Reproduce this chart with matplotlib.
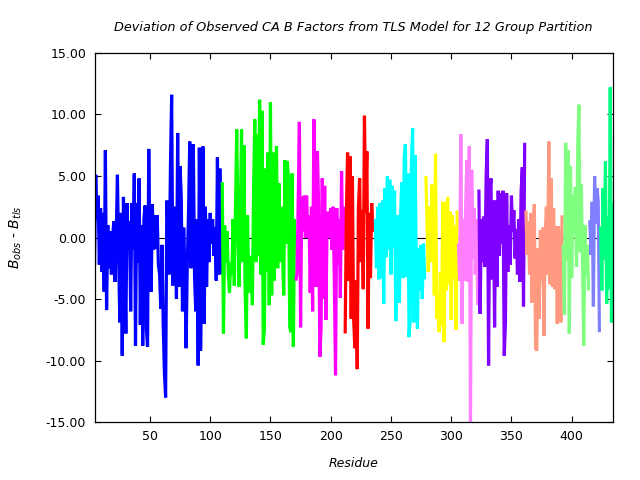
import matplotlib

matplotlib.use("Agg")
import matplotlib.pyplot as plt

# residue ranges of the 12 TLS groups (first, last)
group_ranges = [
    (4, 109), (110, 170), (171, 211), (212, 236), (237, 278), (279, 305),
    (306, 322), (323, 361), (362, 392), (393, 414), (415, 423), (424, 434),
]
group_colors = [
    "#0000ff", "#00ff00", "#ff00ff", "#ff0000", "#00ffff", "#ffff00",
    "#ff80ff", "#8000ff", "#ff9980", "#80ff80", "#8080ff", "#00ff80",
]

# B_obs - B_tls per residue, one list per group
dev_g1 = [
    -2.2, 5.1, 1.5, 3.4, -2.2, 2.4, -2.8, 2.0, -4.4, 7.1,
    -5.9, 1.0, -2.5, 0.5, -3.0, 0.0, 1.3, -3.6, 0.0, 5.1,
    -1.5, -6.9, 2.0, -9.6, 3.3, -2.0, -7.8, 2.8, -1.0, 1.3,
    -6.0, 2.8, -1.0, 5.2, -8.8, 2.8, -2.0, 4.8, -7.1, 1.0,
    -8.8, 1.5, 2.6, -7.4, -8.9, 7.2, -2.0, -4.4, 2.7, -1.0,
    1.8, -0.9, 1.8, -2.2, -3.0, -5.8, -0.6, -7.1, -11.0, -13.0,
    3.0, 1.0, -3.0, 5.8, 11.6, -3.9, 2.5, 0.5, -5.0, 8.5,
    -4.0, 5.8, 3.2, -6.0, 0.8, -3.0, -9.0, -2.0, 2.0, 7.8,
    -2.5, 4.2, 7.6, -3.2, -6.0, 1.5, -10.4, 7.3, -9.2, -3.0,
    7.4, -7.0, 2.5, -4.0, 1.5, -2.0, 2.0, -0.5, 1.5, -1.5,
    0.8, -3.5, 6.5, -3.0, 5.6, -3.0,
]
dev_g2 = [
    4.5, -7.8, 1.0, -2.0, 0.5, -3.0, -4.5, -2.0, -3.0, 1.5,
    -3.9, 2.5, 8.8, 1.0, -4.0, 2.0, 8.8, -2.0, 7.5, -4.5,
    -8.2, 1.8, -4.5, -2.0, -1.5, -5.5, 4.0, 9.6, -2.0, 8.4,
    -1.5, 11.2, -3.0, 10.3, -8.7, -7.4, 5.6, -2.8, 6.9, -5.5,
    11.0, -4.7, 6.9, -3.5, 2.8, 7.4, -2.5, 4.4, -2.0, 2.5,
    -1.0, -4.7, 6.3, -0.5, 6.2, 4.7, -7.3, -7.7, 5.2, -8.9, 1.5,
]
dev_g3 = [
    -3.5, -3.0, 2.7, 9.4, -7.3, 3.3, 0.5, 3.4, 0.0, 3.4,
    0.0, 1.8, -4.5, 2.5, -6.0, 9.6, 5.0, -4.0, 7.0, 2.4,
    -9.7, -7.4, 4.8, -5.0, 4.2, -6.7, 1.0, 2.1, 0.0, 2.4,
    -1.0, 2.5, -3.6, -11.2, 2.4, -2.2, 1.5, -4.9, 5.4, -1.0, 2.5,
]
dev_g4 = [
    -7.8, 2.0, 6.9, -3.5, 6.6, -6.6, 5.0, -6.5, -9.0, -3.5,
    -10.7, 2.4, 4.8, -2.0, 2.2, -4.2, 9.9, 2.0, 7.0, -7.4,
    2.0, -3.3, 2.8, 0.5, 1.0,
]
dev_g5 = [
    1.5, -2.5, 2.5, -3.4, 2.8, -3.3, 3.0, -5.4, 4.0, -1.6,
    5.0, -1.0, 4.7, -3.0, 4.2, -0.8, 3.8, -6.8, -1.5, 1.8,
    -5.3, 2.0, 4.5, -3.3, 6.5, 7.6, -3.2, 5.2, -8.1, -6.6,
    6.2, 8.9, -6.9, 6.7, -2.0, -7.4, -0.9, -4.3, -0.6, -5.0,
    -0.5, -3.4,
]
dev_g6 = [
    5.0, 1.0, -2.8, 2.5, -2.0, 4.3, 1.2, -4.7, 6.8, -6.6,
    -4.8, -7.7, -2.8, -7.2, 2.9, -8.5, 2.9, -4.3, 3.3, -3.8,
    2.1, -6.7, 1.8, -3.3, 1.0, -7.5, 2.2,
]
dev_g7 = [
    -0.5, -3.5, 8.4, -7.0, 1.5, -3.5, 2.7, 6.3, -3.6, 7.4,
    -15.3, 5.5, -1.7, 2.4, -3.0, 1.5, -5.5,
]
dev_g8 = [
    3.9, -6.2, 1.5, -2.0, 1.7, -2.4, 5.1, 8.0, -10.4, 3.5,
    4.8, -3.4, 3.0, -7.3, 3.0, -4.0, 3.8, -1.5, 3.6, -0.5,
    3.8, -9.6, -7.0, 3.6, -2.8, 1.0, -2.2, 3.4, 0.5, 2.2,
    -1.7, 0.7, -3.0, 1.5, -3.6, 3.7, 5.7, -5.6, 7.7,
]
dev_g9 = [
    2.2, -1.4, 1.3, -3.0, 2.0, -5.3, 0.9, 2.7, -9.0, -9.2,
    -0.9, -6.6, 0.6, -3.5, 0.8, -8.0, 0.2, 2.5, -3.0, 7.8,
    -3.8, 4.8, -4.0, 2.4, -4.2, 0.9, -7.0, 0.9, -2.0, -6.9, 1.8,
]
dev_g10 = [
    -0.6, -6.3, 7.7, -1.9, 7.1, -7.8, 5.8, -3.3, 3.4, 0.3,
    4.1, -2.4, 7.7, 10.8, -1.2, 4.3, -2.4, -8.8, 1.0, -3.1,
    -0.6, -4.3,
]
dev_g11 = [1.4, -1.4, 2.9, -5.6, 5.0, 1.1, 4.0, 3.0, -7.7]
dev_g12 = [0.9, -4.3, 4.0, -1.8, 6.2, -5.4, 1.7, -4.2, 12.2, -6.9, 2.8]

deviations = [
    dev_g1, dev_g2, dev_g3, dev_g4, dev_g5, dev_g6,
    dev_g7, dev_g8, dev_g9, dev_g10, dev_g11, dev_g12,
]

fig = plt.figure(figsize=(6.4, 4.8), dpi=100)
ax = fig.add_axes([0.1477, 0.1208, 0.8096, 0.7688])

ax.axhline(0, color="black", lw=0.8, zorder=1)
for (first, last), color, dev in zip(group_ranges, group_colors, deviations):
    residues = list(range(first, last + 1))
    ax.plot(residues, dev, color=color, lw=2.3, zorder=2,
            solid_joinstyle="bevel", solid_capstyle="butt")

ax.set_xlim(4, 434)
ax.set_ylim(-15, 15)
ax.set_xticks(range(50, 401, 50))
ax.set_yticks(range(-15, 16, 5))
ax.yaxis.set_major_formatter(matplotlib.ticker.FormatStrFormatter("%.2f"))
ax.tick_params(direction="in", length=4, width=0.8, labelsize=9,
               top=True, right=True, pad=6)
for spine in ax.spines.values():
    spine.set_linewidth(0.9)

ax.set_title("Deviation of Observed CA B Factors from TLS Model for 12 Group Partition",
             fontsize=9.3, style="italic", pad=16)
ax.set_xlabel("Residue", fontsize=9, style="italic", labelpad=10)
ax.set_ylabel(r"$B_{obs}$ - $B_{tls}$", fontsize=10, labelpad=16)

fig.savefig("out.png", dpi=100)
